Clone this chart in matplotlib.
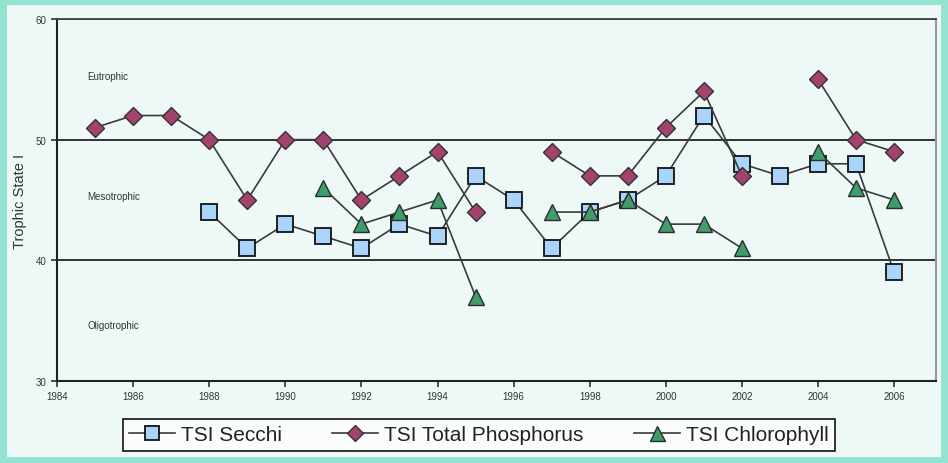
import numpy as np
import matplotlib.pyplot as plt
from matplotlib.patches import Rectangle

plt.rcParams["font.family"] = ["Liberation Sans", "DejaVu Sans"]

years = np.arange(1985, 2007)
nan = np.nan

# TSI values per year (1985..2006), NaN = no sample
secchi = [nan, nan, nan, 44, 41, 43, 42, 41, 43, 42, 47, 45, 41, 44, 45, 47,
          52, 48, 47, 48, 48, 39]
phosphorus = [51, 52, 52, 50, 45, 50, 50, 45, 47, 49, 44, nan, 49, 47, 47, 51,
              54, 47, nan, 55, 50, 49]
chlorophyll = [nan, nan, nan, nan, nan, nan, 46, 43, 44, 45, 37, nan, 44, 44, 45, 43,
               43, 41, nan, 49, 46, 45]

zones = ["Eutrophic", "Mesotrophic", "Oligotrophic"]
zone_y = [55.3, 45.3, 34.6]
boundaries = [40, 50, 60]

BG_OUT = "#93e3d2"
BG_IN = "#eef9f7"
LINE = "#3a3a3a"

fig = plt.figure(figsize=(9.48, 4.64), dpi=100, facecolor=BG_OUT)
fig.patches.append(Rectangle((7 / 948, 6 / 464), 934 / 948, 452 / 464,
                             transform=fig.transFigure, facecolor=BG_IN,
                             edgecolor="none", zorder=-10))
ax = fig.add_axes([57 / 948, (464 - 382) / 464, 879 / 948, 362 / 464])
ax.set_facecolor(BG_IN)

for b in boundaries:
    ax.axhline(b, color="#222222", lw=1.3, zorder=1)

ax.plot(years, secchi, color=LINE, lw=1.2, marker="s", ms=11.5,
        mfc="#a9d5fb", mec="#111111", mew=1.3, label="TSI Secchi", zorder=3)
ax.plot(years, phosphorus, color=LINE, lw=1.2, marker="D", ms=9,
        mfc="#a3416f", mec="#333333", mew=1.0, label="TSI Total Phosphorus", zorder=3)
ax.plot(years, chlorophyll, color=LINE, lw=1.2, marker="^", ms=12,
        mfc="#3f9c6b", mec="#2c2c2c", mew=1.0, label="TSI Chlorophyll", zorder=3)

for name, y in zip(zones, zone_y):
    ax.text(1984.8, y, name, fontsize=7, color="#333333", va="center", ha="left")

ax.set_xlim(1984, 2007.1)
ax.set_ylim(30, 60)
ax.set_xticks(np.arange(1984, 2007, 2))
ax.set_yticks([30, 40, 50, 60])
ax.tick_params(labelsize=7, colors="#333333", length=4, width=1.2)
ax.set_ylabel("Trophic State I", fontsize=10.5, color="#333333", labelpad=6)

for side in ["left", "bottom"]:
    ax.spines[side].set_color("#222222")
    ax.spines[side].set_linewidth(1.5)
ax.spines["top"].set_color("#444444")
ax.spines["top"].set_linewidth(1.3)
ax.spines["right"].set_color("#999999")
ax.spines["right"].set_linewidth(1.5)

leg = fig.legend(loc="center", bbox_to_anchor=(479 / 948, 28 / 464), ncol=3,
                 fontsize=15, frameon=True, fancybox=False, edgecolor="#111111",
                 facecolor="#fbfdfd", framealpha=1, handlelength=2.2,
                 columnspacing=2.4, borderpad=0.3, handletextpad=0.3,
                 markerscale=0.9)
leg.get_frame().set_linewidth(1.2)
for t in leg.get_texts():
    t.set_color("#222222")

fig.savefig("out.png", dpi=100, facecolor=BG_OUT)
